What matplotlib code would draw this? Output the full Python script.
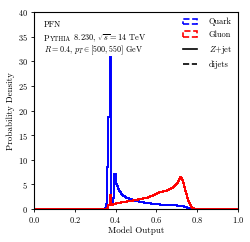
import numpy as np
import matplotlib
matplotlib.use("Agg")
import matplotlib.pyplot as plt
from matplotlib.patches import Patch
from matplotlib.lines import Line2D

plt.rcParams['font.family'] = 'serif'
plt.rcParams['font.serif'] = ['cmr10', 'DejaVu Serif']
plt.rcParams['mathtext.fontset'] = 'cm'
plt.rcParams['axes.formatter.use_mathtext'] = True

bin_start = 0.35
bin_width = 0.005

quark_density = [
    0.3, 1.0, 8.5, 18.8, 18.8, 30.8, 1.5, 1.3, 2.2, 7.2,
    5.0, 4.6, 4.1, 3.7, 3.4, 3.1, 2.9, 2.7, 2.6, 2.45,
    2.35, 2.25, 2.15, 2.05, 2.0, 1.95, 1.9, 1.85, 1.75, 1.7,
    1.65, 1.6, 1.55, 1.5, 1.45, 1.42, 1.4, 1.37, 1.33, 1.3,
    1.27, 1.24, 1.2, 1.17, 1.15, 1.12, 1.1, 1.08, 1.05, 1.03,
    1.0, 0.98, 0.96, 0.94, 0.92, 0.9, 0.9, 0.88, 0.86, 0.85,
    0.84, 0.83, 0.82, 0.8, 0.8, 0.78, 0.77, 0.76, 0.75, 0.74,
    0.72, 0.7, 0.68, 0.66, 0.63, 0.6, 0.55, 0.5, 0.42, 0.35,
    0.27, 0.2, 0.13, 0.08, 0.04, 0.02, 0.01, 0.0, 0.0, 0.0,
]
gluon_density = [
    0.0, 0.1, 0.3, 0.8, 0.8, 2.9, 0.8, 0.9, 1.0, 1.1,
    1.2, 1.2, 1.25, 1.3, 1.3, 1.35, 1.4, 1.4, 1.45, 1.5,
    1.5, 1.55, 1.6, 1.6, 1.65, 1.7, 1.7, 1.75, 1.8, 1.8,
    1.85, 1.9, 1.95, 2.0, 2.0, 2.05, 2.1, 2.15, 2.2, 2.25,
    2.3, 2.35, 2.45, 2.5, 2.6, 2.65, 2.75, 2.85, 2.95, 3.05,
    3.1, 3.25, 3.35, 3.4, 3.45, 3.5, 3.55, 3.6, 3.65, 3.7,
    3.8, 3.9, 4.0, 4.1, 4.2, 4.35, 4.5, 4.65, 4.85, 5.05,
    5.35, 5.7, 6.2, 6.6, 6.4, 5.9, 5.3, 4.5, 3.7, 3.0,
    2.3, 1.7, 1.2, 0.8, 0.5, 0.3, 0.15, 0.07, 0.03, 0.01,
]

x_ticks = [0.0, 0.2, 0.4, 0.6, 0.8, 1.0]
y_ticks = [0, 5, 10, 15, 20, 25, 30, 35, 40]


def full_stairs(vals):
    inner = bin_start + bin_width * np.arange(len(vals) + 1)
    edges = np.concatenate([[0.0], inner, [1.0]])
    v = np.concatenate([[0.0], vals, [0.0]])
    return v, edges


fig = plt.figure(figsize=(2.51, 2.42), dpi=100)
ax = fig.add_axes([0.135, 0.136, 0.813, 0.814])

qv, qe = full_stairs(quark_density)
gv, ge = full_stairs(gluon_density)
ax.stairs(qv, qe, color='blue', lw=1.4)
ax.stairs(gv, ge, color='red', lw=1.4)

ax.set_xlim(0, 1)
ax.set_ylim(0, 40)
ax.set_xticks(x_ticks)
ax.set_yticks(y_ticks)
ax.tick_params(labelsize=6, length=2.5, width=0.6, pad=2)
ax.set_xlabel('Model Output', fontsize=6.5, labelpad=1)
ax.set_ylabel('Probability Density', fontsize=6.5, labelpad=2)
for s in ax.spines.values():
    s.set_linewidth(0.8)

ax.text(0.05, 0.955, 'PFN', transform=ax.transAxes, fontsize=6,
        fontweight='bold', va='top', ha='left')
base_y = 0.855
t1 = ax.text(0.05, base_y, 'P', transform=ax.transAxes,
             fontsize=6, va='baseline', ha='left')
t2 = ax.annotate('YTHIA', xy=(1, base_y), xycoords=(t1, 'axes fraction'),
                 fontsize=4.6, va='baseline', ha='left')
ax.annotate(r' 8.230, $\sqrt{s} = 14$ TeV', xy=(1, base_y),
            xycoords=(t2, 'axes fraction'),
            fontsize=6, va='baseline', ha='left')
ax.text(0.05, 0.795, r'$R = 0.4$, $p_T \in [500, 550]$ GeV', transform=ax.transAxes,
        fontsize=5.8, va='baseline', ha='left')

handles = [
    Patch(facecolor='none', edgecolor='blue', linestyle='--', lw=1.2),
    Patch(facecolor='none', edgecolor='red', linestyle='--', lw=1.2),
    Line2D([], [], color='black', lw=1.2),
    Line2D([], [], color='black', lw=1.2, ls='--'),
]
labels = ['Quark', 'Gluon', r'$Z$+jet', 'dijets']
ax.legend(handles, labels, loc='upper right', frameon=False, fontsize=6,
          handlelength=1.7, handleheight=0.7, labelspacing=0.55,
          borderaxespad=0.3, handletextpad=1.4)

fig.savefig('out.png', dpi=100)
